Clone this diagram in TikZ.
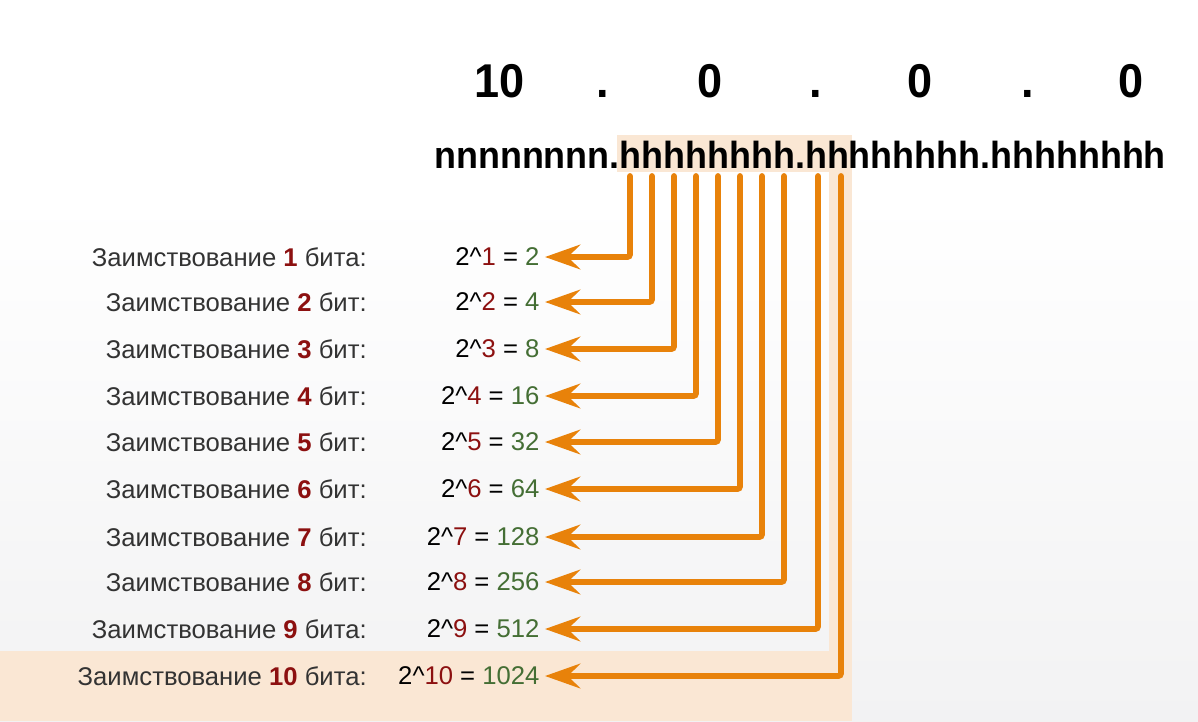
\documentclass[tikz,border=0pt]{standalone}
\usepackage{fontspec}
\setmainfont{Liberation Sans}
\newfontfamily\headfont[FakeStretch=0.95]{Liberation Sans}
\usetikzlibrary{arrows.meta,positioning}

\definecolor{txtgray}{RGB}{51,51,51}
\definecolor{bitred}{RGB}{140,16,16}
\definecolor{valgreen}{RGB}{68,110,52}
\definecolor{peach}{RGB}{250,231,212}
\definecolor{bggray}{RGB}{242,242,243}
\definecolor{wireorange}{RGB}{232,130,10}

\begin{document}
\begin{tikzpicture}[
    x=0.02cm, y=-0.02cm,
    octet/.style={anchor=base, font=\headfont\bfseries\fontsize{27}{30}\selectfont, inner sep=0pt},
    mask/.style={font=\headfont\bfseries\fontsize{21.5}{24}\selectfont, inner sep=0pt},
    borrow/.style={anchor=east, inner sep=0pt, text=txtgray, font=\fontsize{14.6}{17}\selectfont},
    power/.style={anchor=east, inner xsep=3pt, inner ysep=0pt, font=\fontsize{14.6}{17}\selectfont},
    bitarrow/.style={draw=wireorange, line width=3.3pt, line cap=round, rounded corners=1.5pt,
        -{Stealth[length=20pt, width=14pt, inset=7pt]}}
  ]
  \useasboundingbox (0,0) rectangle (1198,721);

  % background
  \fill[white] (0,0) rectangle (1198,200);
  \fill[top color=white, bottom color=bggray] (0,200) rectangle (1198,721);
  \fill[peach] (617,135) rectangle (852,172);
  \fill[peach] (829,135) rectangle (852,721);
  \fill[peach] (0,651) rectangle (852,721);

  % address
  \foreach \x/\t [count=\k] in {500/10, 603/., 710/0, 816/., 920/0, 1028/., 1131/0}
    \node[octet] (oct\k) at (\x,97) {\t};
  \node[mask] (mask) at (800,155) {nnnnnnnn.hhhhhhhh.hhhhhhhh.hhhhhhhh};

  % rows
  \foreach \n/\y/\w/\v/\bx in {1/257/бита/2/630, 2/302/бит/4/652, 3/349/бит/8/674,
      4/396/бит/16/696, 5/442/бит/32/718, 6/489/бит/64/740, 7/537/бит/128/762,
      8/582/бит/256/784, 9/629/бита/512/818, 10/676/бита/1024/841} {
    \node[borrow] (lab\n) at (367,\y) {Заимствование \textcolor{bitred}{\bfseries\n} \w:};
    \node[power] (pow\n) at (545,\y) {2\^{}\textcolor{bitred}{\n} = \textcolor{valgreen}{\v}};
    \coordinate (bit\n) at (\bx,176);
    \draw[bitarrow] (bit\n) |- (pow\n.east);
  }
\end{tikzpicture}
\end{document}
